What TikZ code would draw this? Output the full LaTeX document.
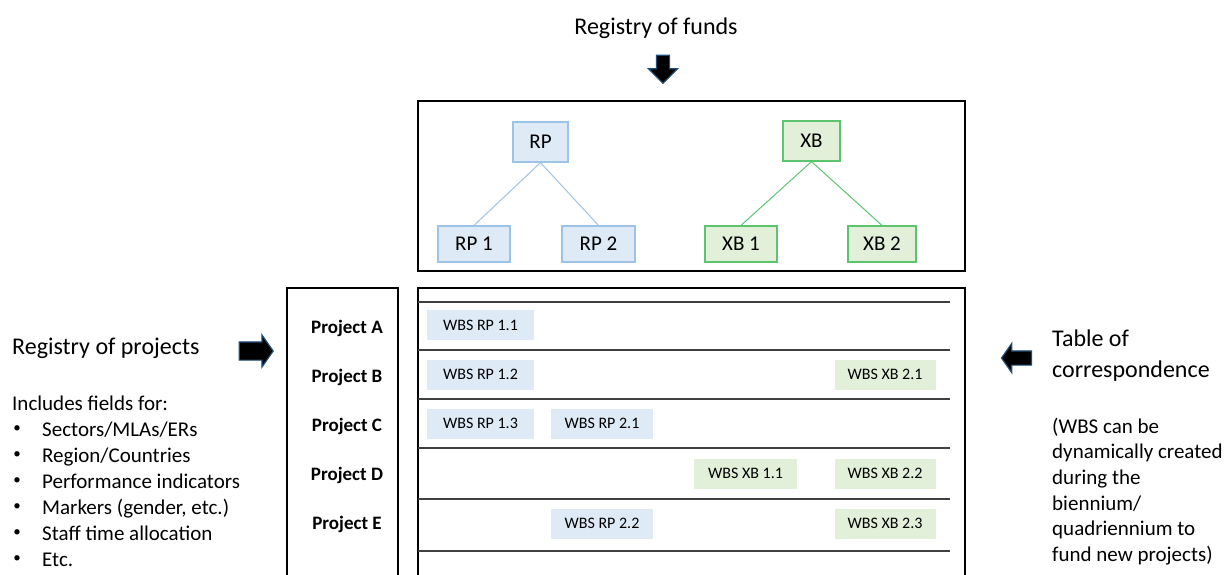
\documentclass[tikz,border=0pt]{standalone}
\usepackage{fontspec}
\setmainfont{Carlito}
\usetikzlibrary{shapes.arrows}
\definecolor{bluefill}{HTML}{DEEBF7}
\definecolor{blueline}{HTML}{9DC3E6}
\definecolor{greenfill}{HTML}{E2F0D9}
\definecolor{greenline}{HTML}{5CC46E}
\definecolor{arrowedge}{HTML}{1F4E79}
\definecolor{rowgray}{HTML}{404040}
\begin{document}
\begin{tikzpicture}[x=1pt,y=-1pt,
  frame/.style={draw=black,line width=2.5pt,inner sep=0pt},
  fundbase/.style={line width=1.2pt,inner sep=0pt,font=\fontsize{21}{24}\selectfont},
  fundblue/.style={fundbase,draw=blueline,fill=bluefill},
  fundgreen/.style={fundbase,draw=greenline,fill=greenfill},
  wbsbase/.style={inner sep=0pt,minimum height=30pt,font=\fontsize{16}{18}\selectfont},
  wbsblue/.style={wbsbase,fill=bluefill},
  wbsgreen/.style={wbsbase,fill=greenfill},
  bluelink/.style={draw=blueline,line width=1pt},
  greenlink/.style={draw=greenline,line width=1pt},
  rowline/.style={draw=rowgray,line width=1.1pt},
  projlabel/.style={font=\fontsize{19}{22}\selectfont\bfseries,inner sep=0pt},
  heading/.style={font=\fontsize{24}{28}\selectfont,inner sep=0pt},
  bodytext/.style={font=\fontsize{21}{25}\selectfont,inner sep=0pt},
  bulletmark/.style={font=\fontsize{15}{18}\selectfont,inner sep=0pt},
  blockarrow/.style={single arrow,draw=arrowedge,fill=black,line width=1.2pt,single arrow head extend=8pt}
]
\useasboundingbox (0,0) rectangle (1231,574);

% ---- registry of funds ----
\node[heading,anchor=base] (fundstitle) at (656,34) {Registry of funds};
\node[blockarrow,shape border rotate=270,inner sep=6pt,minimum height=28pt] (downarrow) at (663,66) {};

\node[frame,minimum width=547pt,minimum height=170pt] (fundsbox) at (691.5,186) {};
\node[fundblue,minimum width=55pt,minimum height=40pt] (rp) at (540.5,142) {RP};
\node[fundblue,minimum width=72pt,minimum height=36pt] (rp1) at (474,244) {RP 1};
\node[fundblue,minimum width=73pt,minimum height=36pt] (rp2) at (598.5,244) {RP 2};
\node[fundgreen,minimum width=57pt,minimum height=40pt] (xb) at (811.5,141) {XB};
\node[fundgreen,minimum width=72pt,minimum height=36pt] (xb1) at (741,244) {XB 1};
\node[fundgreen,minimum width=68pt,minimum height=36pt] (xb2) at (882,244) {XB 2};
\draw[bluelink] (rp.south) -- (rp1.north);
\draw[bluelink] (rp.south) -- (rp2.north);
\draw[greenlink] (xb.south) -- (xb1.north);
\draw[greenlink] (xb.south) -- (xb2.north);

% ---- registry of projects ----
\node[heading,anchor=base west] (projtitle) at (12,354) {Registry of projects};
\node[blockarrow,inner sep=8.5pt,minimum height=34pt,single arrow head extend=7pt,single arrow tip angle=110] (rightarrow) at (253,351) {};
\node[bodytext,anchor=base west] (incl) at (12,410) {Includes fields for:};
\foreach \n/\yy/\t in {1/436/Sectors\slash MLAs\slash ERs,2/462/Region\slash Countries,3/488/Performance indicators,4/514/{Markers (gender, etc.)},5/540/Staff time allocation,6/566/Etc.}{
  \node[bulletmark] (bul\n) at (17,\yy-6.5) {\textbullet};
  \node[bodytext,anchor=base west] (item\n) at (42,\yy) {\t};
}

\node[frame,minimum width=111pt,minimum height=310pt] (projbox) at (342.5,443) {};
\node[frame,minimum width=547pt,minimum height=310pt] (corrbox) at (691.5,443) {};
\foreach \yy in {302,350,399,448,499,551}{
  \draw[rowline] (418,\yy) -- (950,\yy);
}
\node[projlabel] (pa) at (347,328) {Project A};
\node[projlabel] (pb) at (347,377) {Project B};
\node[projlabel] (pc) at (347,426) {Project C};
\node[projlabel] (pd) at (347,475) {Project D};
\node[projlabel] (pe) at (347,524) {Project E};

\node[wbsblue,minimum width=107pt] (w11) at (480.5,325) {WBS RP 1.1};
\node[wbsblue,minimum width=107pt] (w12) at (480.5,374.5) {WBS RP 1.2};
\node[wbsblue,minimum width=107pt] (w13) at (480.5,423.5) {WBS RP 1.3};
\node[wbsblue,minimum width=102pt] (w21) at (602,423.5) {WBS RP 2.1};
\node[wbsblue,minimum width=102pt] (w22) at (602,523.5) {WBS RP 2.2};
\node[wbsgreen,minimum width=101pt] (x21) at (885,374.5) {WBS XB 2.1};
\node[wbsgreen,minimum width=103pt] (x11) at (745.5,473.5) {WBS XB 1.1};
\node[wbsgreen,minimum width=101pt] (x22) at (885,473.5) {WBS XB 2.2};
\node[wbsgreen,minimum width=101pt] (x23) at (885,523.5) {WBS XB 2.3};

% ---- table of correspondence ----
\node[blockarrow,shape border rotate=180,inner sep=6.5pt,minimum height=30pt,single arrow head extend=7.5pt,single arrow tip angle=110] (leftarrow) at (1019,358) {};
\node[heading,anchor=base west] (tab1) at (1052,346) {Table of};
\node[heading,anchor=base west] (tab2) at (1052,377) {correspondence};
\foreach \n/\yy/\t in {1/433/(WBS can be,2/458.7/dynamically created,3/484.4/during the,4/510/biennium\slash ,5/535.8/quadriennium to,6/561.5/fund new projects)}{
  \node[bodytext,anchor=base west] (note\n) at (1052,\yy) {\t};
}
\end{tikzpicture}
\end{document}
